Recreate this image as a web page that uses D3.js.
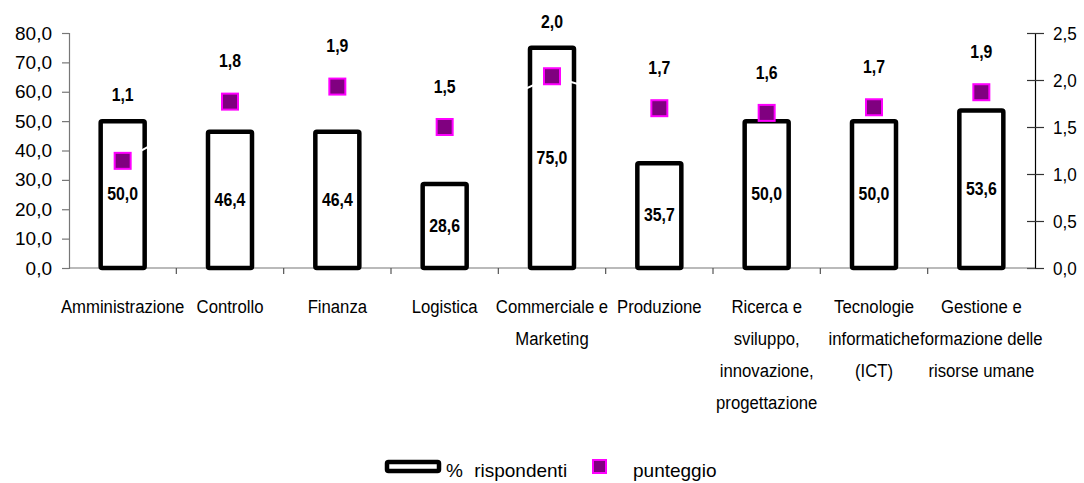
<!DOCTYPE html>
<html>
<head>
<meta charset="utf-8">
<script src="https://cdn.jsdelivr.net/npm/d3@7"></script>
<style>
  html, body { margin: 0; padding: 0; background: #fff; }
  svg { display: block; font-family: "Liberation Sans", Arial, sans-serif; }
</style>
</head>
<body>
<svg id="chart" width="1084" height="483"></svg>
<script>
// Areas (each label split into its display lines)
const categories = [
  ["Amministrazione"],
  ["Controllo"],
  ["Finanza"],
  ["Logistica"],
  ["Commerciale e", "Marketing"],
  ["Produzione"],
  ["Ricerca e", "sviluppo,", "innovazione,", "progettazione"],
  ["Tecnologie", "informatiche", "(ICT)"],
  ["Gestione e", "formazione delle", "risorse umane"]
];
// % rispondenti (left axis)
const respondents = [50.0, 46.4, 46.4, 28.6, 75.0, 35.7, 50.0, 50.0, 53.6];
// punteggio (right axis)
const scores = [1.14, 1.77, 1.93, 1.50, 2.04, 1.70, 1.65, 1.71, 1.87];
const leftTicks = [0, 10, 20, 30, 40, 50, 60, 70, 80];
const rightTicks = [0, 0.5, 1.0, 1.5, 2.0, 2.5];
const legendLabels = ["% rispondenti", "punteggio"];

const it = d3.formatLocale({ decimal: ",", thousands: ".", grouping: [3], currency: ["€", ""] });
const fmt1 = it.format(".1f");

const svg = d3.select("#chart");
const plotL = 69, plotR = 1035, plotT = 33, plotB = 268;

const x = d3.scaleBand().domain(d3.range(categories.length)).range([plotL, plotR]);
const y = d3.scaleLinear().domain([0, 80]).range([plotB, plotT]);
const y2 = d3.scaleLinear().domain([0, 2.5]).range([plotB, plotT]);
const cx = i => x(i) + x.bandwidth() / 2;

// Left axis
const gL = svg.append("g").attr("transform", `translate(${plotL},0)`)
  .call(d3.axisLeft(y).tickValues(leftTicks).tickFormat(fmt1).tickSize(7).tickPadding(10));
gL.select(".domain").attr("stroke", "#777").attr("stroke-width", 1.2);
gL.selectAll(".tick line").attr("stroke", "#777").attr("stroke-width", 1.2);
gL.selectAll(".tick text").attr("font-size", 19).attr("fill", "#000")
  .attr("font-family", "Liberation Sans, Arial, sans-serif");

// Right axis (ticks cross the line)
const gR = svg.append("g").attr("transform", `translate(${plotR},0)`)
  .call(d3.axisRight(y2).tickValues(rightTicks).tickFormat(fmt1).tickSizeInner(9).tickSizeOuter(0).tickPadding(10));
gR.select(".domain").attr("stroke", "#000").attr("stroke-width", 1.2);
gR.selectAll(".tick line").attr("x1", -8).attr("stroke", "#333").attr("stroke-width", 1.2);
gR.selectAll(".tick text").attr("font-size", 19).attr("fill", "#000")
  .attr("font-family", "Liberation Sans, Arial, sans-serif")
  .attr("transform", "scale(0.9,1)").attr("x", 18 / 0.9);

// Category axis: baseline plus boundary ticks
const gX = svg.append("g");
gX.append("line").attr("x1", plotL).attr("x2", plotR).attr("y1", plotB).attr("y2", plotB)
  .attr("stroke", "#777").attr("stroke-width", 1.2);
gX.selectAll("line.tk").data(d3.range(1, categories.length)).join("line").attr("class", "tk")
  .attr("x1", i => x(i)).attr("x2", i => x(i)).attr("y1", plotB).attr("y2", plotB + 6)
  .attr("stroke", "#555").attr("stroke-width", 1.2);

const lab = gX.selectAll("g.lab").data(categories).join("g").attr("class", "lab")
  .attr("transform", (d, i) => `translate(${cx(i)},${plotB + 45}) scale(0.88,1)`);
lab.selectAll("text").data(d => d).join("text")
  .attr("y", (d, j) => j * 32).attr("text-anchor", "middle")
  .attr("font-size", 19).attr("fill", "#000").text(d => d);

// Bars
const bw = 44;
svg.append("g").selectAll("rect").data(respondents).join("rect")
  .attr("x", (d, i) => cx(i) - bw / 2).attr("y", d => y(d))
  .attr("width", bw).attr("height", d => y(0) - y(d))
  .attr("fill", "#fff").attr("stroke", "#000").attr("stroke-width", 4.5)
  .attr("stroke-linejoin", "round").attr("rx", 1.5);

// Bar values
svg.append("g").selectAll("text").data(respondents).join("text")
  .attr("transform", (d, i) => `translate(${cx(i)},${(y(d) + y(0)) / 2}) scale(0.88,1)`)
  .attr("text-anchor", "middle").attr("dominant-baseline", "central")
  .attr("font-size", 18).attr("font-weight", "bold").attr("fill", "#000")
  .text(d => fmt1(d));

// Score line (white, shows only where it crosses the bar outlines)
svg.append("path").datum(scores)
  .attr("d", d3.line().x((d, i) => cx(i)).y(d => y2(d)))
  .attr("fill", "none").attr("stroke", "#fff").attr("stroke-width", 2);

// Score markers
const ms = 16;
svg.append("g").selectAll("rect").data(scores).join("rect")
  .attr("x", (d, i) => cx(i) - ms / 2).attr("y", d => y2(d) - ms / 2)
  .attr("width", ms).attr("height", ms)
  .attr("fill", "#800080").attr("stroke", "#ff00ff").attr("stroke-width", 2);

// Score values, kept clear of the marker and of the bar top
svg.append("g").selectAll("text").data(scores).join("text")
  .attr("transform", (d, i) => {
    const ly = Math.min(y2(d) - 40, y(respondents[i]) - 26);
    return `translate(${cx(i)},${ly}) scale(0.88,1)`;
  })
  .attr("text-anchor", "middle").attr("dominant-baseline", "central")
  .attr("font-size", 18).attr("font-weight", "bold").attr("fill", "#000")
  .text(d => fmt1(d));

// Legend
const lg = svg.append("g");
lg.append("rect").attr("x", 387).attr("y", 462).attr("width", 52).attr("height", 9)
  .attr("fill", "#fff").attr("stroke", "#000").attr("stroke-width", 4.5).attr("rx", 1.5);
lg.append("text").attr("x", 446).attr("y", 477).attr("word-spacing", 6)
  .attr("font-size", 19).attr("fill", "#000").text(legendLabels[0]);
lg.append("rect").attr("x", 593).attr("y", 460).attr("width", 13).attr("height", 13)
  .attr("fill", "#800080").attr("stroke", "#ff00ff").attr("stroke-width", 2);
lg.append("text").attr("x", 633).attr("y", 477)
  .attr("font-size", 19).attr("fill", "#000").text(legendLabels[1]);
</script>
</body>
</html>
